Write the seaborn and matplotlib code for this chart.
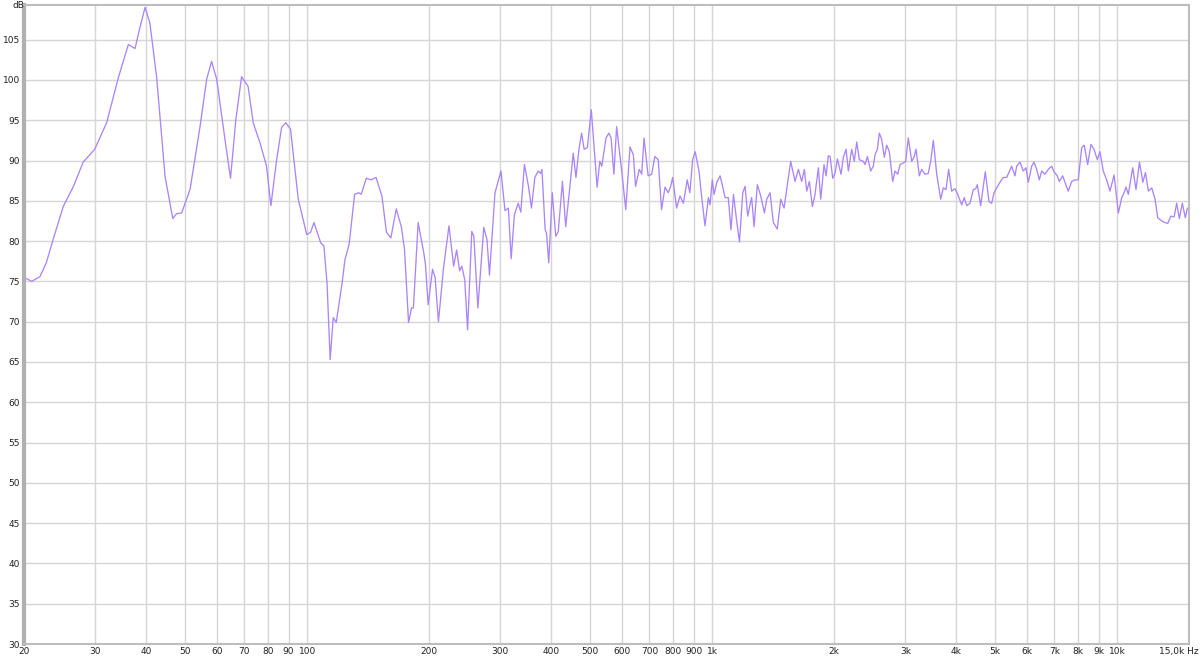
import numpy as np
import pandas as pd
import matplotlib
matplotlib.use("Agg")
import matplotlib.pyplot as plt
import matplotlib.transforms as mtransforms
from matplotlib.ticker import FixedLocator, NullLocator
import seaborn as sns

# frequency response (Hz, dB)
freq_low = [20.0, 20.9, 21.9, 22.7, 23.6, 25.0, 26.5, 28.0, 29.9, 32.0,
            34.2, 36.2, 37.6, 38.7, 39.8, 40.9, 42.5, 44.6, 46.6, 47.6,
            49.0, 51.4, 54.4, 56.5, 58.1, 59.8, 62.7, 64.7, 66.7, 68.9,
            71.5, 73.6, 76.5, 79.4, 81.4, 84.1, 86.5, 88.6, 91.0, 95.1,
            99.8]
db_low = [75.5, 75.0, 75.6, 77.3, 80.2, 84.3, 86.8, 89.8, 91.4, 94.7,
          100.3, 104.4, 103.9, 106.6, 109.0, 107.1, 100.4, 88.0, 82.8, 83.4,
          83.5, 86.4, 94.2, 100.1, 102.3, 100.1, 92.6, 87.8, 95.1, 100.4,
          99.2, 94.7, 92.2, 89.3, 84.4, 90.1, 94.1, 94.7, 93.9, 85.2,
          80.8]

freq_mid = [102, 104, 108, 110, 112, 114, 116, 118, 122, 124,
            127, 131, 134, 136, 140, 144, 148, 153, 157, 161,
            166, 171, 174, 178, 181, 183, 188, 194, 196, 199,
            204, 207, 211, 217, 224, 230, 234, 238, 241, 245,
            249, 255, 258, 264, 273, 278, 282, 291, 301, 308,
            314, 319, 325, 332, 337, 344, 352, 358, 365, 372,
            377, 380, 387, 390, 395, 403, 411, 417, 427, 435,
            443, 454, 461, 469, 476, 483, 492, 503, 514, 520,
            528, 534, 547, 556, 563, 572, 581, 598, 612, 627,
            639, 647, 661, 670, 679, 695, 709, 722, 736, 750,
            765, 779, 790, 799, 817, 833, 849, 868, 881, 895,
            908, 928, 938, 960, 979, 988, 1001]
db_mid = [81.1, 82.3, 79.8, 79.4, 74.8, 65.3, 70.5, 69.9, 74.8, 77.7,
          79.6, 85.8, 86.0, 85.8, 87.8, 87.6, 87.9, 85.6, 81.1, 80.4,
          84.0, 81.7, 78.9, 69.9, 71.7, 71.7, 82.3, 78.6, 77.1, 72.1,
          76.5, 75.5, 70.0, 76.5, 81.9, 76.9, 78.9, 76.3, 76.9, 75.2,
          69.0, 81.2, 80.6, 71.7, 81.7, 80.2, 75.8, 86.0, 88.7, 83.8,
          84.1, 77.8, 83.3, 84.7, 83.6, 89.5, 86.8, 84.1, 87.9, 88.7,
          88.4, 88.9, 81.4, 81.0, 77.3, 86.0, 80.6, 81.2, 87.4, 81.8,
          85.6, 90.9, 87.9, 91.4, 93.4, 91.4, 91.6, 96.3, 90.1, 86.7,
          89.9, 89.3, 92.8, 93.4, 92.8, 88.3, 94.2, 88.7, 83.9, 91.7,
          90.7, 86.8, 88.9, 88.3, 92.8, 88.1, 88.3, 90.5, 90.1, 83.9,
          86.7, 86.0, 86.8, 87.9, 84.1, 85.6, 84.7, 87.6, 86.0, 90.1,
          91.1, 88.7, 86.4, 81.9, 85.4, 84.5, 87.6]

freq_high = [1011, 1027, 1046, 1059, 1076, 1096, 1113, 1129, 1151, 1168,
             1190, 1206, 1224, 1240, 1252, 1269, 1293, 1318, 1346, 1364,
             1390, 1416, 1448, 1477, 1505, 1534, 1563, 1602, 1633, 1664,
             1689, 1712, 1738, 1768, 1795, 1829, 1854, 1889, 1911, 1936,
             1955, 1985, 2011, 2038, 2081, 2108, 2141, 2169, 2211, 2244,
             2275, 2309, 2362, 2385, 2417, 2463, 2500, 2524, 2558, 2587,
             2622, 2661, 2698, 2738, 2791, 2828, 2872, 2910, 2964, 3005,
             3050, 3110, 3151, 3187, 3247, 3291, 3354, 3417, 3464, 3516,
             3585, 3667, 3721, 3779, 3837, 3903, 3977, 4039, 4131, 4193,
             4251, 4331, 4413, 4474, 4515, 4602, 4725, 4826, 4900, 4965,
             5041, 5136, 5233, 5336, 5489, 5593, 5648, 5755, 5864, 5954,
             6033, 6151, 6232, 6328, 6423, 6510, 6633, 6759, 6891, 6982,
             7115, 7196, 7336, 7432, 7573, 7720, 7866, 8016, 8172, 8294,
             8456, 8616, 8765, 8931, 9068, 9239, 9420, 9598, 9826, 10068,
             10265, 10400, 10519, 10652, 10923, 11129, 11351, 11573, 11745, 11941,
             12174, 12404, 12593, 12883, 13126, 13335, 13565, 13822, 14028, 14237,
             14483, 14731, 14906]
db_high = [85.8, 87.3, 88.1, 87.0, 85.4, 85.4, 81.4, 85.8, 82.3, 79.9,
           86.0, 86.8, 83.1, 84.5, 85.4, 81.8, 87.0, 85.6, 83.5, 85.2,
           86.0, 82.3, 81.5, 85.2, 84.1, 87.0, 89.9, 87.4, 88.9, 87.4,
           88.9, 86.2, 87.4, 84.3, 85.8, 89.1, 85.2, 89.5, 88.1, 90.6,
           90.5, 87.8, 88.4, 90.2, 88.3, 90.4, 91.4, 88.7, 91.4, 89.9,
           92.3, 90.1, 89.9, 89.5, 90.5, 88.7, 89.3, 90.7, 91.4, 93.4,
           92.6, 90.4, 91.9, 91.1, 87.4, 88.7, 88.3, 89.5, 89.7, 89.9,
           92.8, 89.9, 90.4, 91.4, 88.1, 88.9, 88.3, 88.4, 89.9, 92.5,
           88.3, 85.2, 86.6, 86.4, 88.9, 86.2, 86.5, 85.8, 84.5, 85.4,
           84.4, 84.7, 86.4, 86.5, 87.0, 84.4, 88.6, 84.9, 84.7, 86.0,
           86.6, 87.3, 87.9, 87.9, 89.3, 88.1, 89.3, 89.8, 88.7, 89.1,
           87.3, 89.3, 89.8, 88.9, 87.6, 88.7, 88.3, 88.9, 89.3, 88.6,
           88.1, 87.4, 88.1, 87.3, 86.2, 87.4, 87.6, 87.6, 91.6, 91.9,
           89.5, 92.0, 91.4, 90.1, 91.1, 88.7, 87.6, 86.2, 88.2, 83.5,
           85.4, 86.0, 86.7, 85.8, 89.1, 86.4, 89.8, 87.3, 88.5, 86.2,
           86.6, 85.2, 82.9, 82.5, 82.3, 82.2, 83.1, 83.0, 84.7, 82.8,
           84.7, 82.9, 84.1]

x_ticks = [20, 30, 40, 50, 60, 70, 80, 90, 100, 200, 300, 400, 500, 600,
           700, 800, 900, 1000, 2000, 3000, 4000, 5000, 6000, 7000, 8000,
           9000, 10000, 15000]
x_labels = ["20", "30", "40", "50", "60", "70", "80", "90", "100", "200",
            "300", "400", "500", "600", "700", "800", "900", "1k", "2k", "3k",
            "4k", "5k", "6k", "7k", "8k", "9k", "10k", "15,0k Hz"]
y_ticks = list(range(30, 110, 5))

df = pd.DataFrame({"freq": freq_low + freq_mid + freq_high,
                   "db": db_low + db_mid + db_high})

sns.set_theme(style="whitegrid")
plt.rcParams["font.family"] = ["DejaVu Sans"]

fig = plt.figure(figsize=(12, 6.56), dpi=100)
ax = fig.add_axes([24 / 1200, 12 / 656, 1164.5 / 1200, 639 / 656])

sns.lineplot(data=df, x="freq", y="db", ax=ax, color="#ab85ff",
             linewidth=0.95, sort=False)

ax.set_xscale("log")
ax.set_xlim(20, 15000)
ax.set_ylim(30, 109.3)
ax.xaxis.set_major_locator(FixedLocator(x_ticks))
ax.xaxis.set_minor_locator(NullLocator())
ax.set_xticklabels(x_labels)
ax.set_yticks(y_ticks)
ax.set_yticklabels([str(v) for v in y_ticks])
ax.set_xlabel("")
ax.set_ylabel("")

ax.grid(True, color="#d6d6d6", linewidth=1.0)
ax.tick_params(axis="both", length=0, labelsize=6.5, colors="#222222")
ax.tick_params(axis="x", pad=2)
ax.tick_params(axis="y", pad=3)

# keep the last label ("15,0k Hz") inside the figure, as in the reference
last = ax.get_xticklabels()[-1]
last.set_horizontalalignment("right")
last.set_transform(last.get_transform() +
                   mtransforms.ScaledTranslation(10 / 100, 0, fig.dpi_scale_trans))

for side in ["top", "right", "bottom"]:
    ax.spines[side].set_color("#bdbdbd")
    ax.spines[side].set_linewidth(1.5)
ax.spines["left"].set_color("#b0b0b0")
ax.spines["left"].set_linewidth(3)

fig.text(18 / 1200, 1 - 0.5 / 656, "dB", ha="center", va="top",
         fontsize=6.5, color="#222222")

fig.savefig("out.png", dpi=100)
